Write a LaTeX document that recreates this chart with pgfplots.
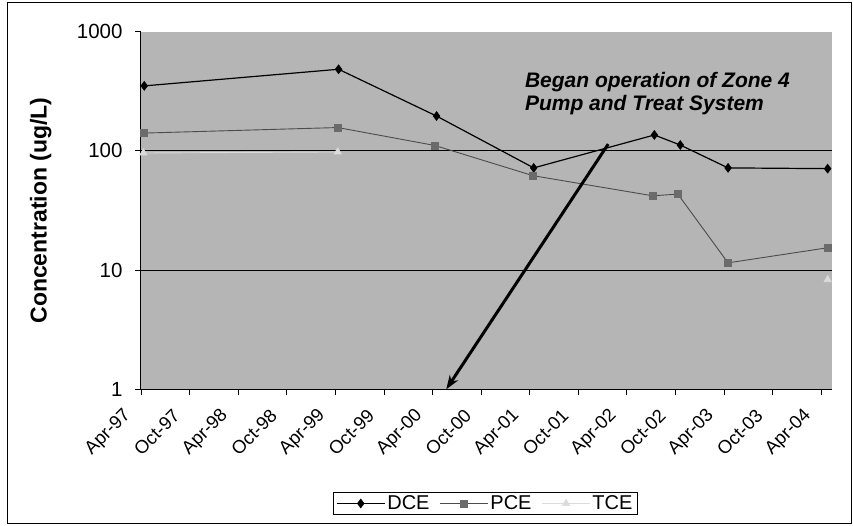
\documentclass[border=0pt]{standalone}
\usepackage{pgfplots}
\pgfplotsset{compat=1.18}
\usepackage{fontspec}
\setmainfont{Liberation Sans}
\usetikzlibrary{arrows.meta}
\definecolor{bgcol}{gray}{0.71}
\definecolor{pcecol}{gray}{0.42}
\definecolor{pceline}{gray}{0.30}
\definecolor{tcecol}{gray}{0.86}
\pgfplotstableread{
x y
0.4 351
24.4 484
36.5 196
48.5 72
63.4 136
66.6 112
72.5 72
84.8 71
}\dcedata
\pgfplotstableread{
x y
0.3 141
24.3 157
36.3 111
48.4 62
63.2 42
66.3 43.4
72.5 11.5
84.8 15.4
}\pcedata
\pgfplotstableread{
x y
0.3 96
24.3 98
60 nan
84.8 8.3
}\tcedata
\begin{document}
\begin{tikzpicture}
\useasboundingbox (-141pt,-136.7pt) rectangle (712pt,389.3pt);
\draw[black, line width=0.8pt] (-134pt,-134.5pt) rectangle (710pt,387pt);
\begin{axis}[
  at={(0pt,0pt)}, anchor=south west,
  scale only axis, width=690.7pt, height=357.6pt,
  xmin=0, xmax=85.3, ymode=log, ymin=1, ymax=1000,
  axis x line*=bottom, axis y line*=left,
  axis line style={black, line width=1pt},
  tick align=outside, major tick length=6pt,
  tick style={black, line width=0.8pt},
  xtick={0,6,...,84},
  xticklabels={Apr-97,Oct-97,Apr-98,Oct-98,Apr-99,Oct-99,Apr-00,Oct-00,Apr-01,Oct-01,Apr-02,Oct-02,Apr-03,Oct-03,Apr-04},
  ytick={1,10,100,1000}, yticklabels={1,10,100,1000},
  yminorticks=false, xminorticks=false,
  xticklabel style={font=\fontsize{18.5}{21}\selectfont, anchor=east, rotate=45, xshift=-18pt, yshift=-3pt},
  yticklabel style={font=\fontsize{20.5}{23}\selectfont, xshift=-9pt},
  axis background/.style={fill=bgcol},
  ylabel={\textbf{Concentration (ug/L)}},
  ylabel style={font=\fontsize{23}{26}\selectfont, at={(axis description cs:-0.145,0.5)}, anchor=center},
  legend columns=3,
  legend style={at={(axis description cs:0.4985,-0.3193)}, anchor=center,
    draw=black, line width=1.2pt, font=\fontsize{20}{22}\selectfont,
    inner xsep=3pt, inner ysep=1pt,
    /tikz/every even column/.append style={column sep=8pt}},
  legend image code/.code={\draw[mark repeat=2,mark phase=2,#1] plot coordinates {(0pt,0pt) (24pt,0pt) (48pt,0pt)};},
  clip=false,
]
\draw[black, line width=0.9pt] (axis cs:0,10) -- (axis cs:85.3,10);
\draw[black, line width=0.9pt] (axis cs:0,100) -- (axis cs:85.3,100);
\addplot[black, line width=1.2pt, mark=diamond*, mark size=4.5pt, mark options={fill=black, line width=0.5pt}] table[x=x,y=y] {\dcedata};
\addlegendentry{DCE}
\addplot[pceline, line width=0.9pt, mark=square*, mark size=3.5pt, mark options={fill=pcecol, draw=pcecol, line width=0.5pt}] table[x=x,y=y] {\pcedata};
\addlegendentry{PCE}
\addplot[tcecol, line width=0.9pt, unbounded coords=jump, mark=triangle*, mark size=4pt, mark options={fill=tcecol, draw=tcecol}] table[x=x,y=y] {\tcedata};
\addlegendentry{TCE}
\draw[-{Stealth[length=14pt,width=10pt]}, line width=3pt, black] (axis cs:57.7,114) -- (axis cs:37.7,1);
\node[anchor=north west, align=left, inner sep=0pt, font=\fontsize{21}{23.3}\selectfont\bfseries\itshape] at (axis cs:47.4,462) {Began operation of Zone 4\\Pump and Treat System};
\end{axis}
\end{tikzpicture}
\end{document}
